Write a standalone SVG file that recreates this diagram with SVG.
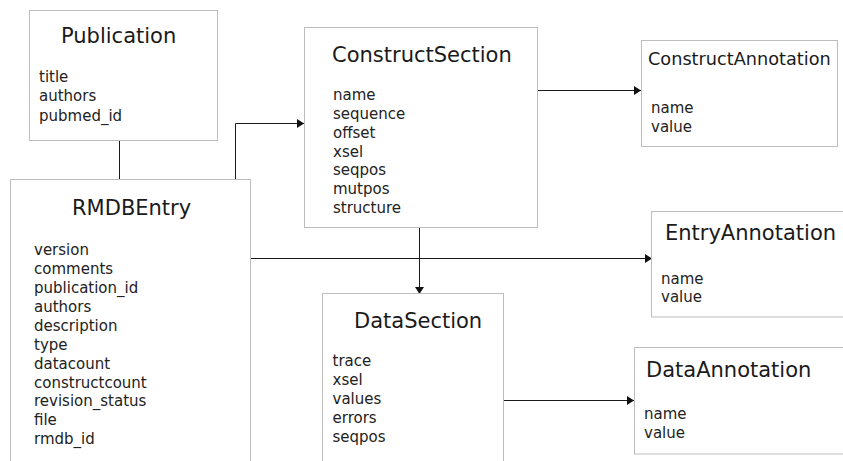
<svg xmlns="http://www.w3.org/2000/svg" width="843" height="461" viewBox="0 0 843 461">
<defs>
<marker id="arr" markerUnits="userSpaceOnUse" markerWidth="9" markerHeight="10" refX="7" refY="4.5" orient="auto">
<path d="M0,0 L7,4.5 L0,9 z" fill="#111"/>
</marker>
<style>
.box{fill:#fff;stroke:#bdbdbd;stroke-width:1}
.t{font-family:"DejaVu Sans",sans-serif;font-size:21px;fill:#1a1a1a}
.ts{font-family:"DejaVu Sans",sans-serif;font-size:17.7px;fill:#1a1a1a}
.f{font-family:"DejaVu Sans",sans-serif;font-size:15px;fill:#222}
.c{fill:none;stroke:#1a1a1a;stroke-width:1}
</style>
</defs>
<rect width="843" height="461" fill="#fff"/>
<g id="connectors">
<path class="c" d="M119.5,140 V179"/>
<path class="c" d="M235.5,179 V123.5 H304" marker-end="url(#arr)"/>
<path class="c" d="M537,90.5 H641" marker-end="url(#arr)"/>
<path class="c" d="M250,258.5 H652" marker-end="url(#arr)"/>
<path class="c" d="M419.5,228 V294" marker-end="url(#arr)"/>
<path class="c" d="M504,400.5 H634" marker-end="url(#arr)"/>
</g>
<g id="Publication">
<rect class="box" x="29.5" y="10.5" width="188" height="130"/>
<text class="t" x="61" y="43">Publication</text>
<text class="f" x="39" y="82">title</text>
<text class="f" x="39" y="101">authors</text>
<text class="f" x="39" y="120.5">pubmed_id</text>
</g>
<g id="RMDBEntry">
<rect class="box" x="10.5" y="179.5" width="240" height="300"/>
<text class="t" x="72" y="215">RMDBEntry</text>
<text class="f" x="34">
<tspan x="34" y="255">version</tspan>
<tspan x="34" y="274">comments</tspan>
<tspan x="34" y="293">publication_id</tspan>
<tspan x="34" y="311.5">authors</tspan>
<tspan x="34" y="330.5">description</tspan>
<tspan x="34" y="349.5">type</tspan>
<tspan x="34" y="368.5">datacount</tspan>
<tspan x="34" y="387.5">constructcount</tspan>
<tspan x="34" y="406">revision_status</tspan>
<tspan x="34" y="425">file</tspan>
<tspan x="34" y="444">rmdb_id</tspan>
</text>
</g>
<g id="ConstructSection">
<rect class="box" x="304.5" y="27.5" width="233" height="200"/>
<text class="t" x="332" y="62">ConstructSection</text>
<text class="f">
<tspan x="333" y="100">name</tspan>
<tspan x="333" y="119">sequence</tspan>
<tspan x="333" y="137.5">offset</tspan>
<tspan x="333" y="156.5">xsel</tspan>
<tspan x="333" y="175">seqpos</tspan>
<tspan x="333" y="194">mutpos</tspan>
<tspan x="333" y="212.5">structure</tspan>
</text>
</g>
<g id="ConstructAnnotation">
<rect class="box" x="641.5" y="40.5" width="196" height="106"/>
<text class="ts" x="648" y="65">ConstructAnnotation</text>
<text class="f" x="651" y="113">name</text>
<text class="f" x="651" y="132">value</text>
</g>
<g id="EntryAnnotation">
<rect class="box" x="651.5" y="211.5" width="220" height="105.5"/>
<text class="t" x="665" y="240">EntryAnnotation</text>
<text class="f" x="661" y="284">name</text>
<text class="f" x="661" y="302">value</text>
</g>
<g id="DataSection">
<rect class="box" x="322.5" y="293.5" width="181" height="200"/>
<text class="t" x="354" y="328">DataSection</text>
<text class="f">
<tspan x="332.5" y="366">trace</tspan>
<tspan x="332.5" y="385">xsel</tspan>
<tspan x="332.5" y="404">values</tspan>
<tspan x="332.5" y="423">errors</tspan>
<tspan x="332.5" y="442">seqpos</tspan>
</text>
</g>
<g id="DataAnnotation">
<rect class="box" x="634.5" y="347.5" width="240" height="106.5"/>
<text class="t" x="646" y="377">DataAnnotation</text>
<text class="f" x="644" y="419">name</text>
<text class="f" x="644" y="438">value</text>
</g>
</svg>
